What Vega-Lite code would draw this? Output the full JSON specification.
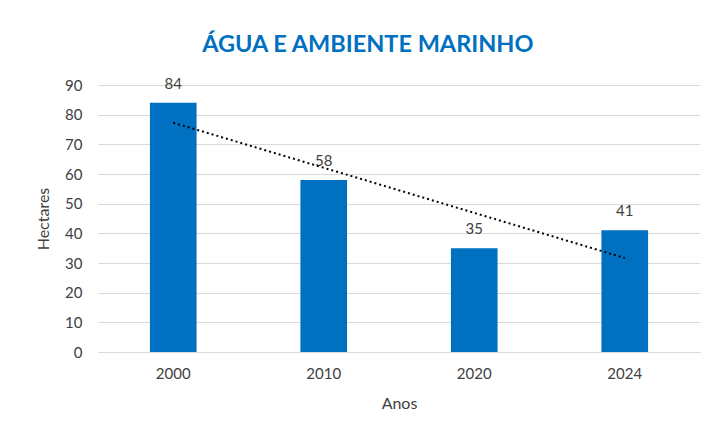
{
  "$schema": "https://vega.github.io/schema/vega-lite/v6.json",
  "width": 602,
  "height": 267,
  "autosize": {"type": "none"},
  "padding": {"left": 98, "top": 85, "right": 10, "bottom": 80},
  "background": "white",
  "title": {
    "text": "ÁGUA E AMBIENTE MARINHO",
    "color": "#0070C0",
    "font": "Lato",
    "fontSize": 23.5,
    "fontWeight": "bold",
    "anchor": "middle",
    "frame": "bounds",
    "offset": 20
  },
  "data": {
    "values": [
      {"ano": "2000", "hectares": 84, "tendencia": 77.3},
      {"ano": "2010", "hectares": 58, "tendencia": 62.1},
      {"ano": "2020", "hectares": 35, "tendencia": 46.9},
      {"ano": "2024", "hectares": 41, "tendencia": 31.7}
    ]
  },
  "encoding": {
    "x": {
      "field": "ano",
      "type": "ordinal",
      "title": "Anos",
      "scale": {"paddingInner": 0.69, "paddingOuter": 0.345},
      "axis": {
        "labelAngle": 0,
        "ticks": false,
        "domainColor": "#D9D9D9",
        "domainWidth": 1,
        "labelFont": "Lato",
        "labelFontSize": 15,
        "labelColor": "#404040",
        "labelPadding": 14,
        "titleFont": "Lato",
        "titleFontSize": 16,
        "titleFontWeight": "normal",
        "titleColor": "#404040",
        "titlePadding": 14
      }
    },
    "y": {
      "field": "hectares",
      "type": "quantitative",
      "title": "Hectares",
      "scale": {"domain": [0, 90]},
      "axis": {
        "values": [0, 10, 20, 30, 40, 50, 60, 70, 80, 90],
        "tickCount": 10,
        "labelOverlap": false,
        "domain": false,
        "ticks": false,
        "gridColor": "#D9D9D9",
        "gridWidth": 1,
        "labelFont": "Lato",
        "labelFontSize": 15,
        "labelColor": "#404040",
        "labelPadding": 16,
        "titleFont": "Lato",
        "titleFontSize": 16,
        "titleFontWeight": "normal",
        "titleColor": "#404040",
        "titlePadding": 13
      }
    }
  },
  "layer": [
    {
      "mark": {"type": "bar", "color": "#0070C0"}
    },
    {
      "mark": {"type": "text", "font": "Lato", "fontSize": 15, "color": "#404040", "baseline": "alphabetic", "dy": -14},
      "encoding": {
        "text": {"field": "hectares", "type": "quantitative"}
      }
    },
    {
      "mark": {"type": "line", "color": "black", "strokeWidth": 2, "strokeDash": [2, 3]},
      "encoding": {
        "y": {"field": "tendencia", "type": "quantitative", "title": "Hectares"}
      }
    }
  ],
  "config": {"view": {"stroke": null}, "axisY": {"tickCount": 10, "labelOverlap": false}}
}
